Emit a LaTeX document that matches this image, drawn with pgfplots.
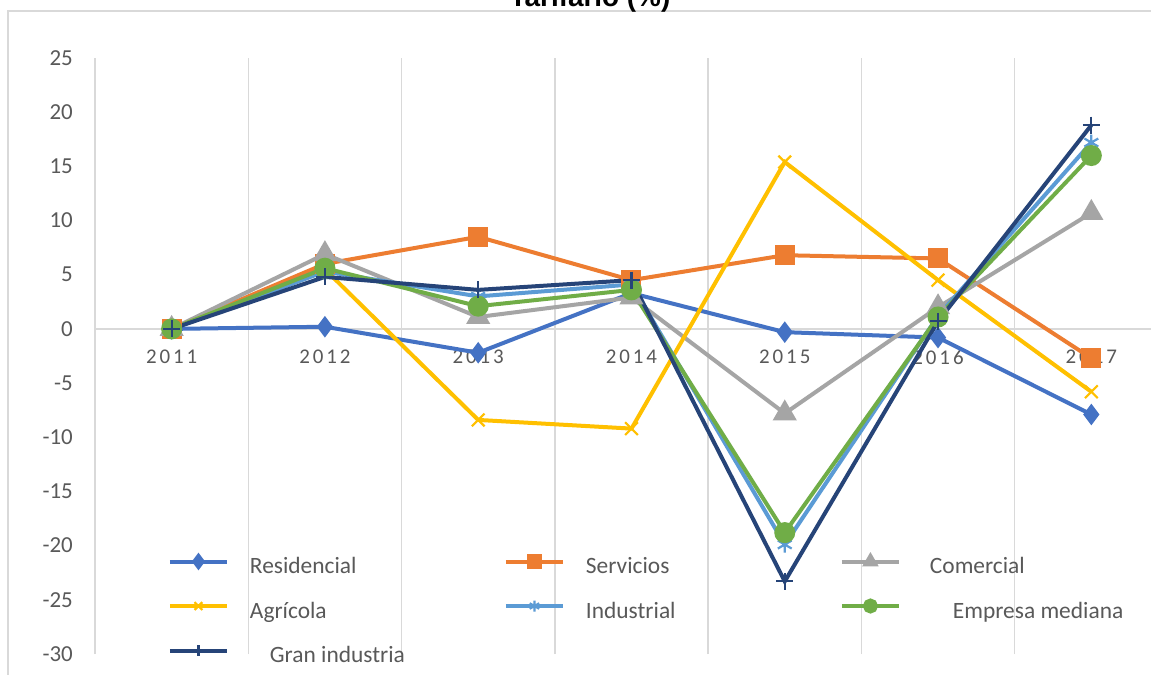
\documentclass[border=0pt]{standalone}
\usepackage{fontspec}
\setmainfont{Carlito}
\newfontfamily\titlefont{Liberation Sans}
\newfontfamily\yearfont[LetterSpace=14]{Carlito}
\usepackage{pgfplots}
\pgfplotsset{compat=1.18}

\definecolor{cRes}{HTML}{4472C4}
\definecolor{cSer}{HTML}{ED7D31}
\definecolor{cCom}{HTML}{A5A5A5}
\definecolor{cAgr}{HTML}{FFC000}
\definecolor{cInd}{HTML}{5B9BD5}
\definecolor{cEmp}{HTML}{70AD47}
\definecolor{cGra}{HTML}{264478}
\definecolor{gridgray}{HTML}{D9D9D9}
\definecolor{ticktext}{HTML}{595959}

\newcommand{\legtext}[2][0bp]{\makebox[254bp][l]{\hspace*{#1}#2}}

\begin{document}
\begin{tikzpicture}
\useasboundingbox (-95bp,-21bp) rectangle (1056bp,654bp);
\clip (-95bp,-21bp) rectangle (1056bp,654bp);
\fill[white] (-95bp,-21bp) rectangle (1056bp,654bp);
% chart frame
\draw[gridgray, line width=1.5bp] (-87bp,-40bp) -- (-87bp,643bp) -- (1100bp,643bp);
\node[anchor=base, inner sep=0pt, font=\titlefont\bfseries\fontsize{28}{28}\selectfont] at (495bp,647bp) {Tarifario (\%)};
\begin{axis}[
  at={(0,0)}, anchor=south west,
  scale only axis, width=1073bp, height=596bp,
  xmin=-0.5, xmax=6.5, ymin=-30, ymax=25,
  axis x line*=middle, axis y line*=left,
  x axis line style={draw=none}, y axis line style={draw=none},
  hide obscured x ticks=false, hide obscured y ticks=false,
  xtick={0,1,2,3,4,5,6},
  xticklabels={2011,2012,2013,2014,2015,2016,2017},
  minor xtick={-0.5,0.5,1.5,2.5,3.5,4.5,5.5,6.5},
  xminorgrids=true,
  minor grid style={gridgray, line width=1.5bp},
  ytick={-30,-25,-20,-15,-10,-5,0,5,10,15,20,25},
  yticklabels={-30,-25,-20,-15,-10,-5,0,5,10,15,20,25},
  extra y ticks={0}, extra y tick labels={},
  extra y tick style={grid=major, major grid style={gridgray, line width=1.5bp}},
  major tick length=0pt, minor tick length=0pt,
  tick label style={text=ticktext},
  yticklabel style={font=\fontsize{23}{23}\selectfont, anchor=east, inner sep=0pt, xshift=-22bp},
  xticklabel style={font=\yearfont\fontsize{21}{21}\selectfont, anchor=north, inner sep=0pt, yshift=-21bp},
  legend columns=3,
  legend cell align=left,
  legend style={draw=none, fill=none, inner sep=0pt, outer sep=0pt,
    at={(0.068,0.1644)}, anchor=north west,
    font=\fontsize{23.5}{23.5}\selectfont, text=ticktext,
    nodes={inner sep=0pt, text height=17bp, text depth=5bp},
    row sep=22bp,
    /tikz/every odd column/.append style={column sep=21bp}},
  legend image code/.code={\draw[mark repeat=2,mark phase=2,mark size=5.5bp] plot coordinates {(0bp,6bp) (28.5bp,6bp) (57bp,6bp)};},
  every axis plot/.append style={line width=4bp},
]
\addplot[color=cRes, mark=diamond*, mark size=7.5bp, mark options={solid, fill=cRes}]
  coordinates {(0,0) (1,0.2) (2,-2.2) (3,3.3) (4,-0.3) (5,-0.8) (6,-7.9)};
\addlegendentry{\legtext{Residencial}}
\addplot[color=cSer, mark=square*, mark size=8bp, mark options={solid, fill=cSer}]
  coordinates {(0,0) (1,6.0) (2,8.5) (3,4.5) (4,6.8) (5,6.5) (6,-2.7)};
\addlegendentry{\legtext{Servicios}}
\addplot[color=cCom, mark=triangle*, mark size=10bp, mark options={solid, fill=cCom}]
  coordinates {(0,0) (1,6.9) (2,1.1) (3,2.9) (4,-7.8) (5,2.0) (6,10.7)};
\addlegendentry{\legtext[8bp]{Comercial}}
\addplot[color=cAgr, mark=x, mark size=9bp, mark options={solid, line width=2.2bp}]
  coordinates {(0,0) (1,5.5) (2,-8.4) (3,-9.2) (4,15.4) (5,4.5) (6,-5.8)};
\addlegendentry{\legtext{Agrícola}}
\addplot[color=cInd, mark=asterisk, mark size=8bp, mark options={solid, line width=2.2bp}]
  coordinates {(0,0) (1,5.3) (2,3.0) (3,4.1) (4,-19.9) (5,1.2) (6,17.2)};
\addlegendentry{\legtext{Industrial}}
\addplot[color=cEmp, mark=*, mark size=8.5bp, mark options={solid, fill=cEmp}]
  coordinates {(0,0) (1,5.6) (2,2.1) (3,3.6) (4,-18.8) (5,1.1) (6,16.0)};
\addlegendentry{\legtext[31bp]{Empresa mediana}}
\addplot[color=cGra, mark=+, mark size=8.5bp, mark options={solid, line width=2.2bp}]
  coordinates {(0,0) (1,4.8) (2,3.6) (3,4.5) (4,-23.3) (5,0.7) (6,18.8)};
\addlegendentry{\legtext[20bp]{Gran industria}}
\end{axis}
\end{tikzpicture}
\end{document}
